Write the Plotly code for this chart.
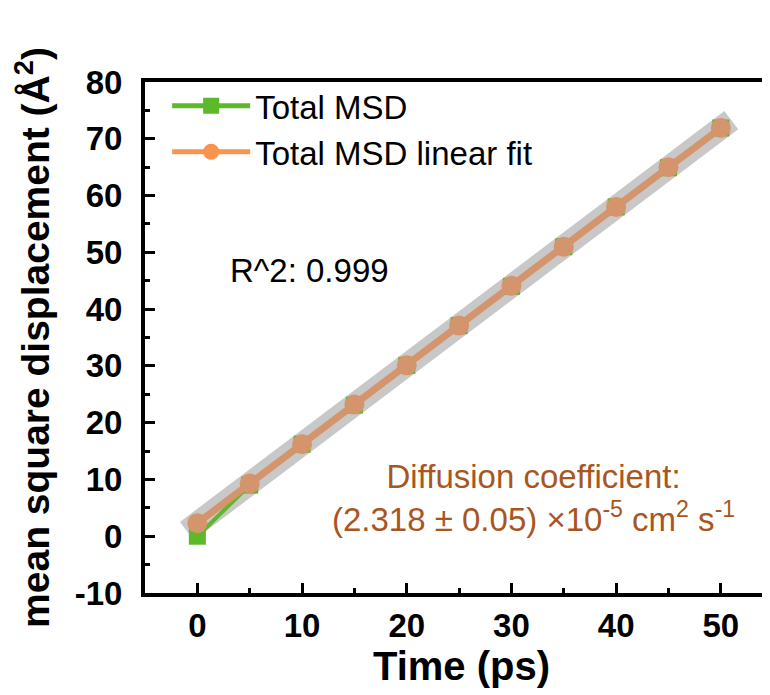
import plotly.graph_objects as go

time_ps = [0, 5, 10, 15, 20, 25, 30, 35, 40, 45, 50]
msd_total = [0.0, 9.0, 16.2, 23.1, 30.1, 37.1, 44.0, 51.0, 58.0, 64.9, 71.9]
msd_fit = [2.3, 9.3, 16.2, 23.2, 30.1, 37.1, 44.1, 51.0, 58.0, 65.0, 71.9]

x_ticks = [0, 10, 20, 30, 40, 50]
x_ticktext = ["0", "10", "20", "30", "40", "50"]
y_ticks = [-10, 0, 10, 20, 30, 40, 50, 60, 70, 80]
y_ticktext = ["-10", "0", "10", "20", "30", "40", "50", "60", "70", "80"]

green = "#5DB82A"
orange_leg = "#F79450"
orange_plot = "#D4946C"
brown = "#A8561E"
FONT = "Liberation Sans, Arial, sans-serif"

# extend gray band a bit beyond the fit end points along the fit line
slope = (msd_fit[-1] - msd_fit[0]) / (time_ps[-1] - time_ps[0])
ext = 1.0
band_x = [time_ps[0] - ext, time_ps[-1] + ext]
band_y = [msd_fit[0] - ext * slope, msd_fit[-1] + ext * slope]

fig = go.Figure()
fig.add_trace(go.Scatter(x=band_x, y=band_y, mode="lines",
                         line=dict(color="#C8C8C8", width=23),
                         showlegend=False, hoverinfo="skip"))
fig.add_trace(go.Scatter(x=time_ps, y=msd_total, mode="lines+markers",
                         line=dict(color=green, width=4),
                         marker=dict(symbol="square", size=17, color=green),
                         showlegend=False))
fig.add_trace(go.Scatter(x=time_ps, y=msd_fit, mode="lines+markers",
                         line=dict(color=orange_plot, width=7),
                         marker=dict(symbol="circle", size=20, color=orange_plot),
                         showlegend=False))
# legend entries
fig.add_trace(go.Scatter(x=[None], y=[None], mode="lines+markers", name="Total MSD",
                         line=dict(color=green, width=5),
                         marker=dict(symbol="square", size=17, color=green)))
fig.add_trace(go.Scatter(x=[None], y=[None], mode="lines+markers", name="Total MSD linear fit",
                         line=dict(color=orange_leg, width=5),
                         marker=dict(symbol="circle", size=18, color=orange_leg)))

fig.add_annotation(x=0.131, y=0.632, xref="paper", yref="paper", text="R^2: 0.999",
                   showarrow=False, xanchor="left", yanchor="middle",
                   font=dict(family=FONT, size=33, color="black"))
fig.add_annotation(x=0.6145, y=0.186, xref="paper", yref="paper",
                   text="Diffusion coefficient:<br>(2.318 ± 0.05) ×10<sup>-5</sup> cm<sup>2</sup> s<sup>-1</sup>",
                   showarrow=False, xanchor="center", yanchor="middle", align="center",
                   font=dict(family=FONT, size=33, color=brown))

fig.update_layout(
    width=770, height=695,
    margin=dict(l=137, r=0, t=74, b=110),
    paper_bgcolor="white", plot_bgcolor="white",
    font=dict(family=FONT, color="black"),
    legend=dict(x=0.035, y=1.008, xanchor="left", yanchor="top",
                font=dict(size=33, family=FONT),
                bgcolor="rgba(0,0,0,0)", itemwidth=78, tracegroupgap=0),
    xaxis=dict(range=[-5, 55.46], tickvals=x_ticks, ticktext=x_ticktext,
               showgrid=False, zeroline=False, automargin=False,
               showline=True, linecolor="black", linewidth=4, mirror=True,
               ticks="inside", ticklen=10, tickwidth=3, tickcolor="black",
               minor=dict(dtick=5, tick0=0, ticks="inside", ticklen=5, tickwidth=3, tickcolor="black"),
               tickfont=dict(size=33, family=FONT, weight="bold"),
               title=dict(text="<b>Time (ps)</b>", font=dict(size=40), standoff=0)),
    yaxis=dict(range=[-10, 80], tickvals=y_ticks, ticktext=y_ticktext,
               showgrid=False, zeroline=False, automargin=False,
               showline=True, linecolor="black", linewidth=4, mirror=False,
               ticks="inside", ticklen=10, tickwidth=3, tickcolor="black",
               minor=dict(dtick=5, tick0=0, ticks="inside", ticklen=5, tickwidth=3, tickcolor="black"),
               tickfont=dict(size=33, family=FONT, weight="bold"),
               ticklabelstandoff=12,
               title=dict(text="<b>mean square displacement (Å<sup>2</sup>)</b>", font=dict(size=39), standoff=16)),
)

fig.write_html("out.html")
